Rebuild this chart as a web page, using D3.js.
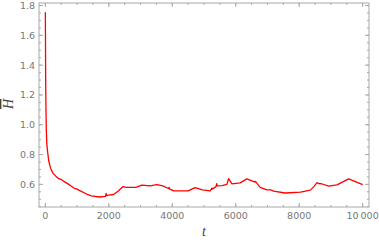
<!DOCTYPE html>
<html lang="en">
<head>
    <meta charset="UTF-8">
    <title>H bar over t</title>
    <style>
        body { margin: 0; background: #fff; }
        svg { display: block; }
        .tick-label { font-family: "DejaVu Sans", sans-serif; font-size: 9.5px; fill: #777; }
        .axis-title { font-family: "Liberation Serif", "DejaVu Serif", serif; font-style: italic; font-size: 14px; fill: #444; }
    </style>
</head>
<body>
    <div id="chart"></div>
    <script src="https://d3js.org/d3.v7.min.js"></script>
    <script>
        // values
        const tValues = [0, 5, 10, 20, 30, 45, 65, 105, 170, 250, 330, 410, 500, 570, 700, 800, 900, 1000, 1100, 1300, 1450, 1700, 1900, 1915, 1930, 2000, 2150, 2300, 2450, 2550, 2850, 3040, 3300, 3510, 3700, 3880, 3900, 3920, 4050, 4500, 4720, 4950, 5195, 5250, 5260, 5380, 5400, 5420, 5570, 5720, 5775, 5880, 6140, 6350, 6610, 6620, 6770, 6980, 7100, 7190, 7560, 8040, 8350, 8455, 8560, 8620, 8700, 8930, 9190, 9560, 10000];
        const hValues = [1.755, 1.55, 1.3, 1.1, 0.97, 0.875, 0.83, 0.76, 0.705, 0.672, 0.655, 0.64, 0.632, 0.622, 0.605, 0.59, 0.575, 0.568, 0.556, 0.535, 0.522, 0.515, 0.52, 0.54, 0.525, 0.528, 0.532, 0.555, 0.585, 0.58, 0.58, 0.595, 0.59, 0.598, 0.59, 0.572, 0.58, 0.568, 0.556, 0.556, 0.578, 0.563, 0.556, 0.575, 0.568, 0.585, 0.605, 0.59, 0.592, 0.6, 0.638, 0.603, 0.61, 0.637, 0.615, 0.62, 0.58, 0.563, 0.563, 0.555, 0.542, 0.548, 0.561, 0.583, 0.611, 0.605, 0.604, 0.588, 0.597, 0.637, 0.598];
        const xTicks = [0, 2000, 4000, 6000, 8000, 10000];
        const yTicks = [0.6, 0.8, 1.0, 1.2, 1.4, 1.6, 1.8];

        const width = 379, height = 243;
        const mLeft = 39, mRight = 369, mTop = 3, mBottom = 207;

        const svg = d3.select("#chart").append("svg")
            .attr("width", width)
            .attr("height", height);

        const x = d3.scaleLinear().domain([-200, 10200]).range([mLeft, mRight]);
        const y = d3.scaleLinear().domain([0.448, 1.817]).range([mBottom, mTop]);

        const frameColor = "#a8a8a8";

        // minor + major ticks on all four sides, pointing inward
        const xMinor = d3.range(0, 10001, 500);
        const yMinor = d3.range(0.45, 1.81, 0.05);

        function tickLines(vals, isX, len) {
            vals.forEach(v => {
                if (isX) {
                    const px = x(v);
                    svg.append("line").attr("x1", px).attr("x2", px).attr("y1", mBottom).attr("y2", mBottom - len).attr("stroke", frameColor);
                    svg.append("line").attr("x1", px).attr("x2", px).attr("y1", mTop).attr("y2", mTop + len).attr("stroke", frameColor);
                } else {
                    const py = y(v);
                    svg.append("line").attr("x1", mLeft).attr("x2", mLeft + len).attr("y1", py).attr("y2", py).attr("stroke", frameColor);
                    svg.append("line").attr("x1", mRight).attr("x2", mRight - len).attr("y1", py).attr("y2", py).attr("stroke", frameColor);
                }
            });
        }
        tickLines(xMinor, true, 2);
        tickLines(xTicks, true, 4);
        tickLines(yMinor, false, 2);
        tickLines(yTicks, false, 4);

        // frame
        svg.append("rect")
            .attr("x", mLeft).attr("y", mTop)
            .attr("width", mRight - mLeft).attr("height", mBottom - mTop)
            .attr("fill", "none").attr("stroke", frameColor);

        // tick labels
        svg.selectAll(".xl").data(xTicks).enter().append("text")
            .attr("class", "tick-label")
            .attr("x", d => x(d)).attr("y", 219)
            .attr("text-anchor", "middle")
            .text(d => d === 10000 ? "10\u2009000" : d);

        svg.selectAll(".yl").data(yTicks).enter().append("text")
            .attr("class", "tick-label")
            .attr("x", mLeft - 4).attr("y", d => y(d) + 3.5)
            .attr("text-anchor", "end")
            .text(d => d.toFixed(1));

        // the curve
        const line = d3.line()
            .x((d, i) => x(tValues[i]))
            .y(d => y(d));

        svg.append("path")
            .datum(hValues)
            .attr("d", line)
            .attr("fill", "none")
            .attr("stroke", "#f00")
            .attr("stroke-width", 1.3)
            .attr("stroke-linejoin", "round");

        // axis titles
        svg.append("text")
            .attr("class", "axis-title")
            .attr("x", 204).attr("y", 236)
            .attr("text-anchor", "middle")
            .text("t");

        svg.append("text")
            .attr("class", "axis-title")
            .attr("transform", "translate(13,104) rotate(-90)")
            .attr("text-anchor", "middle")
            .style("text-decoration", "overline")
            .text("H");
    </script>
</body>
</html>
